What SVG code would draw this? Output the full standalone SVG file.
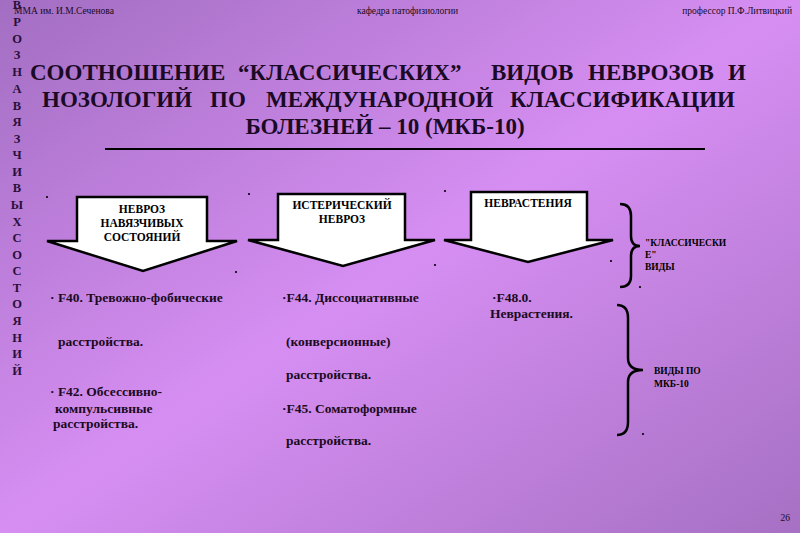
<svg xmlns="http://www.w3.org/2000/svg" width="800" height="533" viewBox="0 0 800 533">
<defs>
<linearGradient id="bg" x1="0" y1="0" x2="1" y2="1">
<stop offset="0" stop-color="#a26ec2"/>
<stop offset="0.5" stop-color="#d68ef2"/>
<stop offset="1" stop-color="#a670c4"/>
</linearGradient>
<style>
.hdr{font-family:"Liberation Serif",serif;font-size:9.5px;fill:#1a0a22}
.title{font-family:"Liberation Serif","Times New Roman",serif;font-weight:bold;font-size:23px;fill:#1a0a26}
.vert{font-family:"Liberation Serif",serif;font-weight:bold;font-size:12.5px;fill:#2a0f3a;text-anchor:middle}
.arr{fill:#ffffff;stroke:#000;stroke-width:2.5;stroke-linejoin:miter}
.at{font-family:"Liberation Serif",serif;font-weight:bold;font-size:11.5px;fill:#000;text-anchor:middle}
.it{font-family:"Liberation Serif",serif;font-weight:bold;font-size:13.5px;fill:#1a0a22}
.sm{font-family:"Liberation Serif",serif;font-weight:bold;font-size:9.5px;fill:#000}
.br{fill:none;stroke:#000;stroke-width:2.5}
.dot{fill:#000}
</style>
</defs>
<rect x="0" y="0" width="800" height="533" fill="url(#bg)"/>

<g id="header">
<text class="hdr" x="14" y="14">ММА им. И.М.Сеченова</text>
<text class="hdr" x="357" y="14">кафедра патофизиологии</text>
<text class="hdr" x="792" y="14" text-anchor="end">профессор П.Ф.Литвицкий</text>
</g>

<g id="vertical-text">
<text class="vert" x="17" y="9">В</text>
<text class="vert" x="17" y="26">Р</text>
<text class="vert" x="17" y="43">О</text>
<text class="vert" x="17" y="59">З</text>
<text class="vert" x="17" y="76">Н</text>
<text class="vert" x="17" y="93">А</text>
<text class="vert" x="17" y="110">В</text>
<text class="vert" x="17" y="126">Я</text>
<text class="vert" x="17" y="143">З</text>
<text class="vert" x="17" y="159">Ч</text>
<text class="vert" x="17" y="176">И</text>
<text class="vert" x="17" y="192">В</text>
<text class="vert" x="17" y="209">Ы</text>
<text class="vert" x="17" y="226">Х</text>
<text class="vert" x="17" y="242">С</text>
<text class="vert" x="17" y="259">О</text>
<text class="vert" x="17" y="275">С</text>
<text class="vert" x="17" y="292">Т</text>
<text class="vert" x="17" y="308">О</text>
<text class="vert" x="17" y="325">Я</text>
<text class="vert" x="17" y="342">Н</text>
<text class="vert" x="17" y="358">И</text>
<text class="vert" x="17" y="375">Й</text>
</g>

<g id="title">
<text class="title" y="80"><tspan x="30">СООТНОШЕНИЕ</tspan><tspan x="238">“КЛАССИЧЕСКИХ”</tspan><tspan x="491">ВИДОВ</tspan><tspan x="588">НЕВРОЗОВ</tspan></text>
<text class="title" x="746" y="80" text-anchor="end">И</text>
<text class="title" y="107"><tspan x="42">НОЗОЛОГИЙ</tspan><tspan x="210">ПО</tspan><tspan x="266">МЕЖДУНАРОДНОЙ</tspan></text>
<text class="title" x="735" y="107" text-anchor="end">КЛАССИФИКАЦИИ</text>
<text class="title" x="385" y="134" text-anchor="middle">БОЛЕЗНЕЙ – 10 (МКБ-10)</text>
<line x1="105" y1="149" x2="705" y2="149" stroke="#000" stroke-width="2"/>
</g>

<g id="arrow-obsessive">
<polygon class="arr" points="77,197 207,197 207,241 237,241 143,271 47,241 77,241"/>
<text class="at" x="142" y="213">НЕВРОЗ</text>
<text class="at" x="142" y="227">НАВЯЗЧИВЫХ</text>
<text class="at" x="142" y="241">СОСТОЯНИЙ</text>
</g>

<g id="arrow-hysteric">
<polygon class="arr" points="278,194 405,194 405,240 435,240 343,266 248,240 278,240"/>
<text class="at" x="342" y="209">ИСТЕРИЧЕСКИЙ</text>
<text class="at" x="342" y="223">НЕВРОЗ</text>
</g>

<g id="arrow-neurasthenia">
<polygon class="arr" points="471,192 587,192 587,240 613,240 528,262 444,240 471,240"/>
<text class="at" x="528" y="207">НЕВРАСТЕНИЯ</text>
</g>

<g id="col1">
<text class="it" x="50" y="302">· F40. Тревожно-фобические</text>
<text class="it" x="58" y="346">расстройства.</text>
<text class="it" x="50" y="396">· F42. Обсессивно-</text>
<text class="it" x="55" y="413">компульсивные</text>
<text class="it" x="53" y="428">расстройства.</text>
</g>

<g id="col2">
<text class="it" x="282" y="302">·F44. Диссоциативные</text>
<text class="it" x="286" y="346">(конверсионные)</text>
<text class="it" x="286" y="379">расстройства.</text>
<text class="it" x="282" y="413">·F45. Соматоформные</text>
<text class="it" x="286" y="445">расстройства.</text>
</g>

<g id="col3">
<text class="it" x="492" y="302">·F48.0.</text>
<text class="it" x="490" y="318">Неврастения.</text>
</g>

<g id="connectors">
<path class="br" d="M620,204 Q631,204 631,216 L631,236 Q631,246 640,246 Q631,246 631,256 L631,276 Q631,287 620,287"/>
<path class="br" d="M617,305 Q628,305 628,318 L628,358 Q628,370 643,370 Q628,370 628,382 L628,422 Q628,435 617,435"/>
</g>

<g id="label-classic">
<text class="sm" x="645" y="246">"КЛАССИЧЕСКИ</text>
<text class="sm" x="645" y="258">Е"</text>
<text class="sm" x="645" y="270">ВИДЫ</text>
</g>

<g id="label-icd">
<text class="sm" x="654" y="374">ВИДЫ ПО</text>
<text class="sm" x="654" y="387">МКБ-10</text>
</g>

<g id="dots">
<circle class="dot" cx="47" cy="197" r="1.1"/>
<circle class="dot" cx="249" cy="194" r="1.1"/>
<circle class="dot" cx="445" cy="191" r="1.1"/>
<circle class="dot" cx="236" cy="272" r="1.1"/>
<circle class="dot" cx="435" cy="265" r="1.1"/>
<circle class="dot" cx="611" cy="261" r="1.1"/>
<circle class="dot" cx="640" cy="287" r="1.1"/>
<circle class="dot" cx="643" cy="434" r="1.1"/>
</g>

<g id="page-number">
<text class="hdr" x="790" y="521" text-anchor="end" font-size="9">26</text>
</g>
</svg>
